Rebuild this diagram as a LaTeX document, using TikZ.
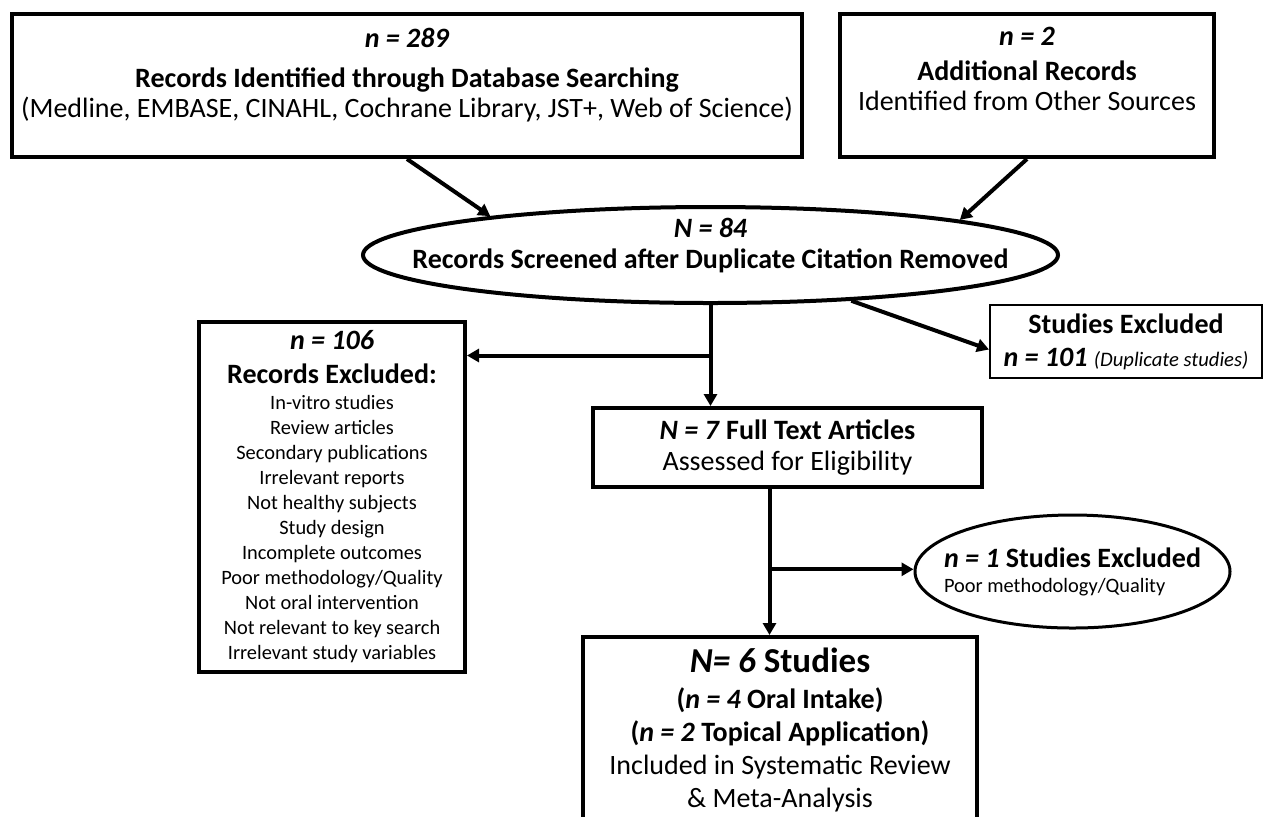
\documentclass[tikz,border=0pt]{standalone}
\usepackage{fontspec}
\setmainfont{Carlito}
\usetikzlibrary{arrows.meta,positioning,shapes.geometric,calc}
\newcommand{\hd}{\fontsize{14}{15.5}\selectfont}
\newcommand{\lstfont}{\fontsize{10.2}{12.5}\selectfont}
\newcommand{\nn}[1]{\textbf{\textit{#1}}}

\begin{document}
\begin{tikzpicture}[x=0.5pt, y=-0.5pt,
  font=\hd,
  box/.style={draw, line width=2pt, align=center, inner xsep=4pt, inner ysep=0pt},
  thinbox/.style={draw, line width=1pt, align=center, inner sep=0pt},
  oval/.style={draw, ellipse, line width=2pt, align=center},
  arr/.style={-{Triangle[length=6pt,width=6.5pt]}, line width=2pt}]
\useasboundingbox (0,0) rectangle (1264,816);
%% identification (text height/depth pin the last baseline inside the box)
\node[box, anchor=north, minimum width=395pt, font=\fontsize{14}{15}\selectfont,
      text height=51.5pt, text depth=20pt] (db) at (407,12)
  {\nn{n = 289}\\[5pt] \textbf{Records Identified through Database Searching}\\
   (Medline, EMBASE, CINAHL, Cochrane Library, JST+, Web of Science)};
\node[box, anchor=north, minimum width=187pt, font=\fontsize{14}{15}\selectfont,
      text height=48pt, text depth=23.5pt] (oth) at (1027,12)
  {\nn{n = 2}\\[2.5pt] \textbf{Additional Records}\\ Identified from Other Sources};
%% screening
\node[oval, minimum width=347.5pt, minimum height=48pt, inner xsep=-35pt, inner ysep=0pt,
      text height=16pt, text depth=3pt] (scr) at (710.5,255)
  {\nn{N = 84}\\ \textbf{Records Screened after Duplicate Citation Removed}};
\node[thinbox, minimum width=136pt, minimum height=36.5pt] (dup) at (1126,341.5)
  {\textbf{Studies Excluded}\\[1pt] \nn{n = 101} {\fontsize{10.3}{12}\selectfont\textit{(Duplicate studies)}}};
\node[box, font=\lstfont, minimum width=133pt, minimum height=175pt] (rex) at (332,497)
  {{\hd\nn{n = 106}}\\[4.5pt] {\hd\textbf{Records Excluded:}}\\[0.5pt]
   In-vitro studies\\ Review articles\\ Secondary publications\\ Irrelevant reports\\
   Not healthy subjects\\ Study design\\ Incomplete outcomes\\ Poor methodology/Quality\\
   Not oral intervention\\ Not relevant to key search\\ Irrelevant study variables};
%% eligibility
\node[box, minimum width=194.5pt, minimum height=39.5pt] (fte) at (787.5,447.5)
  {\textbf{\textit{N = 7} Full Text Articles}\\ Assessed for Eligibility};
\node[oval, line width=1.5pt, align=left, font=\lstfont, minimum width=157.5pt, minimum height=56.5pt,
      inner xsep=-12pt, inner ysep=0pt] (exq) at (1072.5,571.5)
  {{\hd\textbf{\textit{n = 1} Studies Excluded}}\\ Poor methodology/Quality};
%% included
\node[box, anchor=north, minimum width=197pt, font=\fontsize{14}{16.5}\selectfont,
      text height=85pt, text depth=60pt] (inc) at (780,635)
  {{\fontsize{17.5}{19}\selectfont\textbf{\textit{N= 6} Studies}}\\[1.5pt]
   \textbf{(\textit{n = 4} Oral Intake)}\\ \textbf{(\textit{n = 2} Topical Application)}\\
   Included in Systematic Review\\ \& Meta-Analysis};
%% connectors
\draw[arr] (db.south) -- (scr.170);
\draw[arr] (oth.south) -- (scr.8);
\draw[arr] (scr.-18) -- ([yshift=-4pt]dup.west);
\draw[arr] (scr.south) -- (scr.south |- fte.north);
\coordinate (split1) at ($(scr.south)!0.5!(scr.south |- fte.north)$);
\draw[arr] (split1) -- (split1 -| rex.east);
\coordinate (drop) at ([xshift=-9pt]fte.south);
\draw[arr] (drop) -- (drop |- inc.north);
\coordinate (split2) at ($(drop)!0.55!(drop |- inc.north)$);
\draw[arr] (split2) -- (split2 -| exq.west);
\end{tikzpicture}
\end{document}
